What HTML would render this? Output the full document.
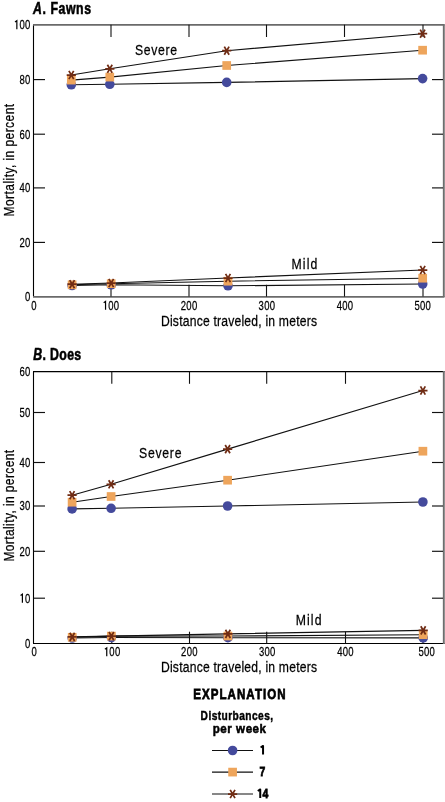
<!DOCTYPE html>
<html><head><meta charset="utf-8"><style>
html,body{margin:0;padding:0;background:#fff;}
svg{display:block;will-change:transform;}
text{font-family:"Liberation Sans",sans-serif;fill:#000;stroke:#000;stroke-width:0.25px;}
text[font-weight=bold]{stroke-width:0.55px;}
</style></head><body>
<svg width="445" height="802" viewBox="0 0 445 802">
<rect width="445" height="802" fill="#fff"/>
<line x1="33.5" y1="24.7" x2="33.5" y2="296.6" stroke="#000" stroke-width="1.1"/>
<line x1="33" y1="24.9" x2="444.5" y2="24.9" stroke="#6a6a6a" stroke-width="1.8"/>
<line x1="33" y1="296.9" x2="444.5" y2="296.9" stroke="#6a6a6a" stroke-width="1.8"/>
<line x1="443.8" y1="24.2" x2="443.8" y2="297.1" stroke="#6e6e6e" stroke-width="1.9"/>
<line x1="33.5" y1="79.6" x2="45" y2="79.6" stroke="#111" stroke-width="1.15"/>
<line x1="432" y1="79.6" x2="443" y2="79.6" stroke="#111" stroke-width="1.15"/>
<line x1="33.5" y1="134.2" x2="45" y2="134.2" stroke="#111" stroke-width="1.15"/>
<line x1="432" y1="134.2" x2="443" y2="134.2" stroke="#111" stroke-width="1.15"/>
<line x1="33.5" y1="187.9" x2="45" y2="187.9" stroke="#111" stroke-width="1.15"/>
<line x1="432" y1="187.9" x2="443" y2="187.9" stroke="#111" stroke-width="1.15"/>
<line x1="33.5" y1="242.4" x2="45" y2="242.4" stroke="#111" stroke-width="1.15"/>
<line x1="432" y1="242.4" x2="443" y2="242.4" stroke="#111" stroke-width="1.15"/>
<line x1="111.00" y1="24.7" x2="111.00" y2="37.0" stroke="#111" stroke-width="1.1"/>
<line x1="111.00" y1="284.8" x2="111.00" y2="296.6" stroke="#111" stroke-width="1.1"/>
<line x1="189.00" y1="24.7" x2="189.00" y2="37.0" stroke="#111" stroke-width="1.1"/>
<line x1="189.00" y1="284.8" x2="189.00" y2="296.6" stroke="#111" stroke-width="1.1"/>
<line x1="266.50" y1="24.7" x2="266.50" y2="37.0" stroke="#111" stroke-width="1.1"/>
<line x1="266.50" y1="284.8" x2="266.50" y2="296.6" stroke="#111" stroke-width="1.1"/>
<line x1="344.50" y1="24.7" x2="344.50" y2="37.0" stroke="#111" stroke-width="1.1"/>
<line x1="344.50" y1="284.8" x2="344.50" y2="296.6" stroke="#111" stroke-width="1.1"/>
<line x1="423.00" y1="24.7" x2="423.00" y2="37.0" stroke="#111" stroke-width="1.1"/>
<line x1="423.00" y1="284.8" x2="423.00" y2="296.6" stroke="#111" stroke-width="1.1"/>
<path d="M16.85 29.15V20.70L15.00 22.05" stroke="#000" stroke-width="1.2" fill="none"/>
<text transform="translate(22.10,29.15) scale(0.76,1)" font-size="12.5" text-anchor="middle">0</text>
<text transform="translate(27.65,29.15) scale(0.76,1)" font-size="12.5" text-anchor="middle">0</text>
<text transform="translate(22.10,84.05) scale(0.76,1)" font-size="12.5" text-anchor="middle">8</text>
<text transform="translate(27.65,84.05) scale(0.76,1)" font-size="12.5" text-anchor="middle">0</text>
<text transform="translate(22.10,138.65) scale(0.76,1)" font-size="12.5" text-anchor="middle">6</text>
<text transform="translate(27.65,138.65) scale(0.76,1)" font-size="12.5" text-anchor="middle">0</text>
<text transform="translate(22.10,192.35) scale(0.76,1)" font-size="12.5" text-anchor="middle">4</text>
<text transform="translate(27.65,192.35) scale(0.76,1)" font-size="12.5" text-anchor="middle">0</text>
<text transform="translate(22.10,246.85) scale(0.76,1)" font-size="12.5" text-anchor="middle">2</text>
<text transform="translate(27.65,246.85) scale(0.76,1)" font-size="12.5" text-anchor="middle">0</text>
<text transform="translate(27.65,301.05) scale(0.76,1)" font-size="12.5" text-anchor="middle">0</text>
<text transform="translate(33.90,309.80) scale(0.76,1)" font-size="12.5" text-anchor="middle">0</text>
<path d="M105.55 309.80V301.35L103.70 302.70" stroke="#000" stroke-width="1.2" fill="none"/>
<text transform="translate(110.80,309.80) scale(0.76,1)" font-size="12.5" text-anchor="middle">0</text>
<text transform="translate(116.35,309.80) scale(0.76,1)" font-size="12.5" text-anchor="middle">0</text>
<text transform="translate(183.45,309.80) scale(0.76,1)" font-size="12.5" text-anchor="middle">2</text>
<text transform="translate(189.00,309.80) scale(0.76,1)" font-size="12.5" text-anchor="middle">0</text>
<text transform="translate(194.55,309.80) scale(0.76,1)" font-size="12.5" text-anchor="middle">0</text>
<text transform="translate(261.25,309.80) scale(0.76,1)" font-size="12.5" text-anchor="middle">3</text>
<text transform="translate(266.80,309.80) scale(0.76,1)" font-size="12.5" text-anchor="middle">0</text>
<text transform="translate(272.35,309.80) scale(0.76,1)" font-size="12.5" text-anchor="middle">0</text>
<text transform="translate(339.35,309.80) scale(0.76,1)" font-size="12.5" text-anchor="middle">4</text>
<text transform="translate(344.90,309.80) scale(0.76,1)" font-size="12.5" text-anchor="middle">0</text>
<text transform="translate(350.45,309.80) scale(0.76,1)" font-size="12.5" text-anchor="middle">0</text>
<text transform="translate(417.15,309.80) scale(0.76,1)" font-size="12.5" text-anchor="middle">5</text>
<text transform="translate(422.70,309.80) scale(0.76,1)" font-size="12.5" text-anchor="middle">0</text>
<text transform="translate(428.25,309.80) scale(0.76,1)" font-size="12.5" text-anchor="middle">0</text>
<polyline points="71.30,84.8 109.80,84.3 226.70,82.4 422.60,78.6" fill="none" stroke="#111" stroke-width="1.15"/>
<polyline points="71.30,80.1 109.80,77.1 226.70,65.5 422.60,50.2" fill="none" stroke="#111" stroke-width="1.15"/>
<polyline points="71.30,75 109.80,68.8 226.70,50.7 422.60,33.7" fill="none" stroke="#111" stroke-width="1.15"/>
<polyline points="72.10,285.5 111.20,284.8 228.00,285.8 422.70,284" fill="none" stroke="#111" stroke-width="1.15"/>
<polyline points="72.10,284.8 111.20,283.7 228.00,281.2 422.70,278.2" fill="none" stroke="#111" stroke-width="1.15"/>
<polyline points="72.10,284.2 111.20,283 228.00,278 422.70,270" fill="none" stroke="#111" stroke-width="1.15"/>
<circle cx="71.30" cy="84.80" r="4.8" fill="#444a9c"/>
<circle cx="109.80" cy="84.30" r="4.8" fill="#444a9c"/>
<circle cx="226.70" cy="82.40" r="4.8" fill="#444a9c"/>
<circle cx="422.60" cy="78.60" r="4.8" fill="#444a9c"/>
<rect x="66.95" y="75.75" width="8.7" height="8.7" fill="#eea55c"/>
<rect x="105.45" y="72.75" width="8.7" height="8.7" fill="#eea55c"/>
<rect x="222.35" y="61.15" width="8.7" height="8.7" fill="#eea55c"/>
<rect x="418.25" y="45.85" width="8.7" height="8.7" fill="#eea55c"/>
<path d="M66.70 75.00H75.90M68.90 70.90L73.70 79.10M73.70 70.90L68.90 79.10" stroke="#702c14" stroke-width="1.75" fill="none"/>
<path d="M105.20 68.80H114.40M107.40 64.70L112.20 72.90M112.20 64.70L107.40 72.90" stroke="#702c14" stroke-width="1.75" fill="none"/>
<path d="M222.10 50.70H231.30M224.30 46.60L229.10 54.80M229.10 46.60L224.30 54.80" stroke="#702c14" stroke-width="1.75" fill="none"/>
<path d="M418.00 33.70H427.20M420.20 29.60L425.00 37.80M425.00 29.60L420.20 37.80" stroke="#702c14" stroke-width="1.75" fill="none"/>
<circle cx="72.10" cy="285.50" r="4.8" fill="#444a9c"/>
<circle cx="111.20" cy="284.80" r="4.8" fill="#444a9c"/>
<circle cx="228.00" cy="285.80" r="4.8" fill="#444a9c"/>
<circle cx="422.70" cy="284.00" r="4.8" fill="#444a9c"/>
<rect x="67.75" y="280.45" width="8.7" height="8.7" fill="#eea55c"/>
<rect x="106.85" y="279.35" width="8.7" height="8.7" fill="#eea55c"/>
<rect x="223.65" y="276.85" width="8.7" height="8.7" fill="#eea55c"/>
<rect x="418.35" y="273.85" width="8.7" height="8.7" fill="#eea55c"/>
<path d="M67.50 284.20H76.70M69.70 280.10L74.50 288.30M74.50 280.10L69.70 288.30" stroke="#702c14" stroke-width="1.75" fill="none"/>
<path d="M106.60 283.00H115.80M108.80 278.90L113.60 287.10M113.60 278.90L108.80 287.10" stroke="#702c14" stroke-width="1.75" fill="none"/>
<path d="M223.40 278.00H232.60M225.60 273.90L230.40 282.10M230.40 273.90L225.60 282.10" stroke="#702c14" stroke-width="1.75" fill="none"/>
<path d="M418.10 270.00H427.30M420.30 265.90L425.10 274.10M425.10 265.90L420.30 274.10" stroke="#702c14" stroke-width="1.75" fill="none"/>
<line x1="33.5" y1="371.5" x2="33.5" y2="643.5" stroke="#000" stroke-width="1.1"/>
<line x1="33" y1="371.6" x2="444.5" y2="371.6" stroke="#000" stroke-width="1.1"/>
<line x1="33" y1="643.5" x2="444.5" y2="643.5" stroke="#000" stroke-width="1.1"/>
<line x1="443.8" y1="371.0" x2="443.8" y2="644.0" stroke="#6e6e6e" stroke-width="1.9"/>
<line x1="33.5" y1="412.5" x2="45" y2="412.5" stroke="#111" stroke-width="1.15"/>
<line x1="432" y1="412.5" x2="443" y2="412.5" stroke="#111" stroke-width="1.15"/>
<line x1="33.5" y1="462.5" x2="45" y2="462.5" stroke="#111" stroke-width="1.15"/>
<line x1="432" y1="462.5" x2="443" y2="462.5" stroke="#111" stroke-width="1.15"/>
<line x1="33.5" y1="506" x2="45" y2="506" stroke="#111" stroke-width="1.15"/>
<line x1="432" y1="506" x2="443" y2="506" stroke="#111" stroke-width="1.15"/>
<line x1="33.5" y1="551.3" x2="45" y2="551.3" stroke="#111" stroke-width="1.15"/>
<line x1="432" y1="551.3" x2="443" y2="551.3" stroke="#111" stroke-width="1.15"/>
<line x1="33.5" y1="598.2" x2="45" y2="598.2" stroke="#111" stroke-width="1.15"/>
<line x1="432" y1="598.2" x2="443" y2="598.2" stroke="#111" stroke-width="1.15"/>
<line x1="111.80" y1="371.5" x2="111.80" y2="383.8" stroke="#111" stroke-width="1.1"/>
<line x1="111.80" y1="631.7" x2="111.80" y2="643.5" stroke="#111" stroke-width="1.1"/>
<line x1="189.50" y1="371.5" x2="189.50" y2="383.8" stroke="#111" stroke-width="1.1"/>
<line x1="189.50" y1="631.7" x2="189.50" y2="643.5" stroke="#111" stroke-width="1.1"/>
<line x1="266.70" y1="371.5" x2="266.70" y2="383.8" stroke="#111" stroke-width="1.1"/>
<line x1="266.70" y1="631.7" x2="266.70" y2="643.5" stroke="#111" stroke-width="1.1"/>
<line x1="345.50" y1="371.5" x2="345.50" y2="383.8" stroke="#111" stroke-width="1.1"/>
<line x1="345.50" y1="631.7" x2="345.50" y2="643.5" stroke="#111" stroke-width="1.1"/>
<line x1="423.00" y1="631.7" x2="423.00" y2="643.5" stroke="#111" stroke-width="1.1"/>
<text transform="translate(22.10,375.95) scale(0.76,1)" font-size="12.5" text-anchor="middle">6</text>
<text transform="translate(27.65,375.95) scale(0.76,1)" font-size="12.5" text-anchor="middle">0</text>
<text transform="translate(22.10,416.95) scale(0.76,1)" font-size="12.5" text-anchor="middle">5</text>
<text transform="translate(27.65,416.95) scale(0.76,1)" font-size="12.5" text-anchor="middle">0</text>
<text transform="translate(22.10,466.95) scale(0.76,1)" font-size="12.5" text-anchor="middle">4</text>
<text transform="translate(27.65,466.95) scale(0.76,1)" font-size="12.5" text-anchor="middle">0</text>
<text transform="translate(22.10,510.45) scale(0.76,1)" font-size="12.5" text-anchor="middle">3</text>
<text transform="translate(27.65,510.45) scale(0.76,1)" font-size="12.5" text-anchor="middle">0</text>
<text transform="translate(22.10,555.75) scale(0.76,1)" font-size="12.5" text-anchor="middle">2</text>
<text transform="translate(27.65,555.75) scale(0.76,1)" font-size="12.5" text-anchor="middle">0</text>
<path d="M22.40 602.65V594.20L20.55 595.55" stroke="#000" stroke-width="1.2" fill="none"/>
<text transform="translate(27.65,602.65) scale(0.76,1)" font-size="12.5" text-anchor="middle">0</text>
<text transform="translate(27.65,647.95) scale(0.76,1)" font-size="12.5" text-anchor="middle">0</text>
<text transform="translate(34.10,656.30) scale(0.76,1)" font-size="12.5" text-anchor="middle">0</text>
<path d="M106.75 656.30V647.85L104.90 649.20" stroke="#000" stroke-width="1.2" fill="none"/>
<text transform="translate(112.00,656.30) scale(0.76,1)" font-size="12.5" text-anchor="middle">0</text>
<text transform="translate(117.55,656.30) scale(0.76,1)" font-size="12.5" text-anchor="middle">0</text>
<text transform="translate(183.75,656.30) scale(0.76,1)" font-size="12.5" text-anchor="middle">2</text>
<text transform="translate(189.30,656.30) scale(0.76,1)" font-size="12.5" text-anchor="middle">0</text>
<text transform="translate(194.85,656.30) scale(0.76,1)" font-size="12.5" text-anchor="middle">0</text>
<text transform="translate(261.55,656.30) scale(0.76,1)" font-size="12.5" text-anchor="middle">3</text>
<text transform="translate(267.10,656.30) scale(0.76,1)" font-size="12.5" text-anchor="middle">0</text>
<text transform="translate(272.65,656.30) scale(0.76,1)" font-size="12.5" text-anchor="middle">0</text>
<text transform="translate(339.85,656.30) scale(0.76,1)" font-size="12.5" text-anchor="middle">4</text>
<text transform="translate(345.40,656.30) scale(0.76,1)" font-size="12.5" text-anchor="middle">0</text>
<text transform="translate(350.95,656.30) scale(0.76,1)" font-size="12.5" text-anchor="middle">0</text>
<text transform="translate(421.15,656.30) scale(0.76,1)" font-size="12.5" text-anchor="middle">5</text>
<text transform="translate(426.70,656.30) scale(0.76,1)" font-size="12.5" text-anchor="middle">0</text>
<text transform="translate(432.25,656.30) scale(0.76,1)" font-size="12.5" text-anchor="middle">0</text>
<polyline points="72.10,508.9 111.10,508.3 227.60,506 422.90,502" fill="none" stroke="#111" stroke-width="1.15"/>
<polyline points="72.10,502.2 111.10,496.5 227.60,480.2 422.90,451.2" fill="none" stroke="#111" stroke-width="1.15"/>
<polyline points="72.10,495.2 111.10,484.3 227.60,449.1 422.90,390.5" fill="none" stroke="#111" stroke-width="1.15"/>
<polyline points="72.20,638 111.40,637.5 227.90,637.7 423.20,637.9" fill="none" stroke="#111" stroke-width="1.15"/>
<polyline points="72.20,637.3 111.40,636.1 227.90,636 423.20,634.7" fill="none" stroke="#111" stroke-width="1.15"/>
<polyline points="72.20,636.9 111.40,636.1 227.90,633.9 423.20,630.4" fill="none" stroke="#111" stroke-width="1.15"/>
<circle cx="72.10" cy="508.90" r="4.8" fill="#444a9c"/>
<circle cx="111.10" cy="508.30" r="4.8" fill="#444a9c"/>
<circle cx="227.60" cy="506.00" r="4.8" fill="#444a9c"/>
<circle cx="422.90" cy="502.00" r="4.8" fill="#444a9c"/>
<rect x="67.75" y="497.85" width="8.7" height="8.7" fill="#eea55c"/>
<rect x="106.75" y="492.15" width="8.7" height="8.7" fill="#eea55c"/>
<rect x="223.25" y="475.85" width="8.7" height="8.7" fill="#eea55c"/>
<rect x="418.55" y="446.85" width="8.7" height="8.7" fill="#eea55c"/>
<path d="M67.50 495.20H76.70M69.70 491.10L74.50 499.30M74.50 491.10L69.70 499.30" stroke="#702c14" stroke-width="1.75" fill="none"/>
<path d="M106.50 484.30H115.70M108.70 480.20L113.50 488.40M113.50 480.20L108.70 488.40" stroke="#702c14" stroke-width="1.75" fill="none"/>
<path d="M223.00 449.10H232.20M225.20 445.00L230.00 453.20M230.00 445.00L225.20 453.20" stroke="#702c14" stroke-width="1.75" fill="none"/>
<path d="M418.30 390.50H427.50M420.50 386.40L425.30 394.60M425.30 386.40L420.50 394.60" stroke="#702c14" stroke-width="1.75" fill="none"/>
<circle cx="72.20" cy="638.00" r="4.8" fill="#444a9c"/>
<circle cx="111.40" cy="637.50" r="4.8" fill="#444a9c"/>
<circle cx="227.90" cy="637.70" r="4.8" fill="#444a9c"/>
<circle cx="423.20" cy="637.90" r="4.8" fill="#444a9c"/>
<rect x="67.85" y="632.95" width="8.7" height="8.7" fill="#eea55c"/>
<rect x="107.05" y="631.75" width="8.7" height="8.7" fill="#eea55c"/>
<rect x="223.55" y="631.65" width="8.7" height="8.7" fill="#eea55c"/>
<rect x="418.85" y="630.35" width="8.7" height="8.7" fill="#eea55c"/>
<path d="M67.60 636.90H76.80M69.80 632.80L74.60 641.00M74.60 632.80L69.80 641.00" stroke="#702c14" stroke-width="1.75" fill="none"/>
<path d="M106.80 636.10H116.00M109.00 632.00L113.80 640.20M113.80 632.00L109.00 640.20" stroke="#702c14" stroke-width="1.75" fill="none"/>
<path d="M223.30 633.90H232.50M225.50 629.80L230.30 638.00M230.30 629.80L225.50 638.00" stroke="#702c14" stroke-width="1.75" fill="none"/>
<path d="M418.60 630.40H427.80M420.80 626.30L425.60 634.50M425.60 626.30L420.80 634.50" stroke="#702c14" stroke-width="1.75" fill="none"/>
<text transform="translate(33,13.8) scale(0.79,1)" font-size="15.6" font-weight="bold" textLength="73.42" lengthAdjust="spacing"><tspan font-style="italic">A</tspan>. Fawns</text>
<text transform="translate(33.2,360.2) scale(0.79,1)" font-size="15.6" font-weight="bold" textLength="60.76" lengthAdjust="spacing"><tspan font-style="italic">B</tspan>. Does</text>
<text transform="translate(161,325.5) scale(0.8,1)" font-size="15.2" textLength="195.00" lengthAdjust="spacing">Distance traveled, in meters</text>
<text transform="translate(161,671.8) scale(0.8,1)" font-size="15.2" textLength="195.00" lengthAdjust="spacing">Distance traveled, in meters</text>
<text transform="translate(14,216.4) rotate(-90) scale(0.8,1)" font-size="15.0" textLength="140.62" lengthAdjust="spacing">Mortality, in percent</text>
<text transform="translate(14,561.6) rotate(-90) scale(0.8,1)" font-size="15.0" textLength="139.75" lengthAdjust="spacing">Mortality, in percent</text>
<text transform="translate(135,54.5) scale(0.8,1)" font-size="15.3" textLength="52.50" lengthAdjust="spacing">Severe</text>
<text transform="translate(291.5,268.5) scale(0.8,1)" font-size="15.3" textLength="32.25" lengthAdjust="spacing">Mild</text>
<text transform="translate(139,458.2) scale(0.8,1)" font-size="15.3" textLength="53.12" lengthAdjust="spacing">Severe</text>
<text transform="translate(295.7,624.7) scale(0.8,1)" font-size="15.3" textLength="32.25" lengthAdjust="spacing">Mild</text>
<text transform="translate(193.3,699.2) scale(0.76,1)" font-size="15.2" font-weight="bold" style="stroke-width:0.75px" textLength="121.45" lengthAdjust="spacing">EXPLANATION</text>
<text transform="translate(200.6,719.8) scale(0.75,1)" font-size="13.6" font-weight="bold" style="stroke-width:0.45px" textLength="96.67" lengthAdjust="spacing">Disturbances,</text>
<text transform="translate(212.7,733.3) scale(0.85,1)" font-size="13.6" font-weight="bold" style="stroke-width:0.55px" textLength="62.71" lengthAdjust="spacing">per week</text>
<line x1="212" y1="750.5" x2="253" y2="750.5" stroke="#111" stroke-width="1.15"/>
<circle cx="232.60" cy="750.50" r="4.8" fill="#444a9c"/>
<path d="M263.05 754.60V745.90L260.60 747.50" stroke="#000" stroke-width="2.0" fill="none" stroke-linejoin="round"/>
<line x1="212" y1="772.1" x2="253" y2="772.1" stroke="#111" stroke-width="1.15"/>
<rect x="228.25" y="767.75" width="8.7" height="8.7" fill="#eea55c"/>
<text transform="translate(262.50,776.20) scale(0.8,1)" font-size="13" text-anchor="middle" font-weight="bold" style="stroke-width:0.75px">7</text>
<line x1="212" y1="794.0" x2="253" y2="794.0" stroke="#111" stroke-width="1.15"/>
<path d="M228.00 794.00H237.20M230.20 789.90L235.00 798.10M235.00 789.90L230.20 798.10" stroke="#702c14" stroke-width="1.75" fill="none"/>
<path d="M260.25 798.10V789.40L257.80 791.00" stroke="#000" stroke-width="2.0" fill="none" stroke-linejoin="round"/>
<text transform="translate(265.30,798.10) scale(0.8,1)" font-size="13" text-anchor="middle" font-weight="bold" style="stroke-width:0.75px">4</text>
</svg></body></html>
